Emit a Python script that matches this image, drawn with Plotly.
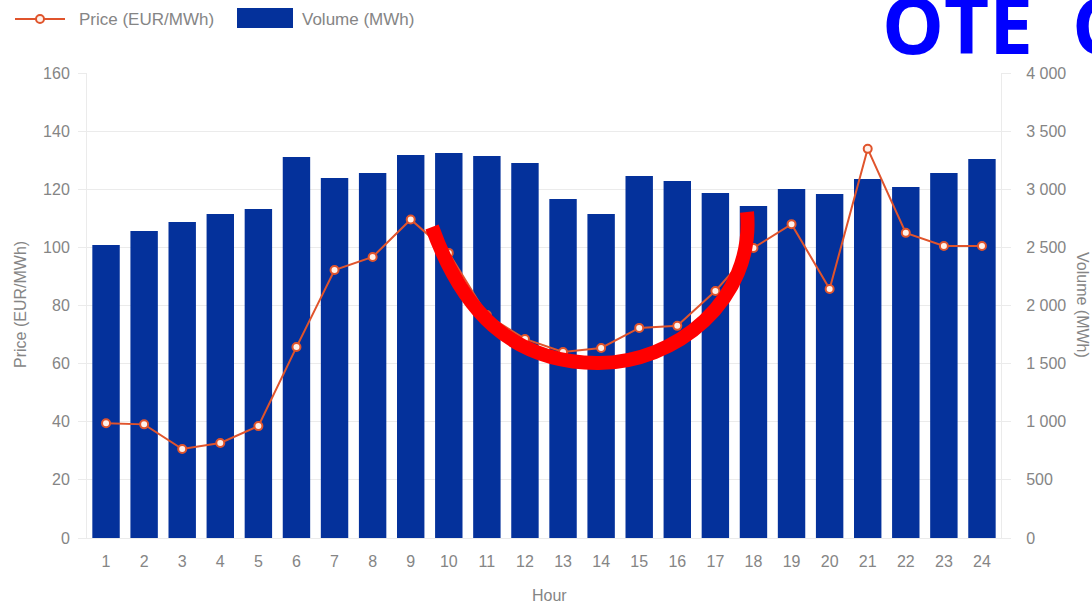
import plotly.graph_objects as go

# Hourly day-ahead results
hours = list(range(1, 25))
price_eur_mwh = [39.5, 39.1, 30.6, 32.7, 38.5, 65.7, 92.2, 96.7, 109.6, 98.1,
                 76.7, 68.5, 64.0, 65.4, 72.3, 73.0, 85.0, 99.8, 108.0, 85.7,
                 133.9, 105.0, 100.5, 100.5]
volume_mwh = [2520, 2641, 2718, 2787, 2830, 3277, 3097, 3140, 3295, 3312,
              3286, 3226, 2916, 2787, 3114, 3071, 2968, 2856, 3002, 2959,
              3088, 3019, 3140, 3260]

price_ticks = list(range(0, 161, 20))
volume_ticks = list(range(0, 4001, 500))

W, H = 1092, 604
L, R, T, B = 87, 91, 73, 66
PW, PH = W - L - R, H - T - B

BAR = "#04319b"
LINE = "#e0542c"
GRID = "#ebebeb"
TXT = "#858585"
FONT = "Liberation Sans, Arial, sans-serif"


def px(x):
    return (x - L) / PW


def py(y):
    return (H - B - y) / PH


fig = go.Figure()

fig.add_trace(go.Bar(
    x=hours, y=volume_mwh, name="Volume (MWh)",
    marker=dict(color=BAR, line=dict(width=0)),
    yaxis="y", showlegend=False,
))
fig.add_trace(go.Scatter(
    x=hours, y=price_eur_mwh, name="Price (EUR/MWh)",
    mode="lines+markers",
    line=dict(color=LINE, width=2),
    marker=dict(size=8, color="#fff1ea", line=dict(color=LINE, width=2)),
    yaxis="y2", showlegend=False,
))

axis_font = dict(family=FONT, size=16, color=TXT)

fig.update_layout(
    width=W, height=H,
    margin=dict(l=L, r=R, t=T, b=B),
    paper_bgcolor="white", plot_bgcolor="white",
    separators=". ",
    bargap=0.28,
    xaxis=dict(
        range=[0.5, 24.5], tickmode="array", tickvals=hours,
        ticktext=[str(h) for h in hours],
        showgrid=False, zeroline=False,
        showline=True, linecolor=GRID, linewidth=1,
        ticks="outside", ticklen=9, tickcolor="rgba(0,0,0,0)",
        tickfont=axis_font,
    ),
    yaxis=dict(
        side="right", range=[0, 4000], tickmode="array", tickvals=volume_ticks,
        tickformat=",d", showgrid=True, gridcolor=GRID, zeroline=False,
        showline=True, linecolor=GRID, linewidth=1,
        ticks="outside", ticklen=9, tickcolor=GRID,
        ticklabelstandoff=12,
        tickfont=axis_font,
    ),
    yaxis2=dict(
        side="left", overlaying="y", range=[0, 160], tickmode="array",
        tickvals=price_ticks, showgrid=False, zeroline=False,
        showline=True, linecolor=GRID, linewidth=1,
        ticks="outside", ticklen=8, tickcolor=GRID,
        ticklabelstandoff=5,
        tickfont=axis_font,
    ),
    showlegend=False,
)

# Axis titles
fig.add_annotation(text="Price (EUR/MWh)", xref="paper", yref="paper",
                   x=px(20), y=py(305), xanchor="center", yanchor="middle",
                   textangle=-90, showarrow=False,
                   font=dict(family=FONT, size=16, color=TXT))
fig.add_annotation(text="Volume (MWh)", xref="paper", yref="paper",
                   x=px(1083), y=py(305), xanchor="center", yanchor="middle",
                   textangle=90, showarrow=False,
                   font=dict(family=FONT, size=16, color=TXT))
fig.add_annotation(text="Hour", xref="paper", yref="paper",
                   x=px(549), y=py(595), xanchor="center", yanchor="middle",
                   showarrow=False,
                   font=dict(family=FONT, size=16, color=TXT))

# Legend
fig.add_shape(type="line", xref="paper", yref="paper",
              x0=px(15), x1=px(65), y0=py(19), y1=py(19),
              line=dict(color=LINE, width=2))
fig.add_shape(type="circle", xref="paper", yref="paper",
              x0=px(36), x1=px(44), y0=py(15), y1=py(23),
              fillcolor="#fff1ea", line=dict(color=LINE, width=2))
fig.add_annotation(text="Price (EUR/MWh)", xref="paper", yref="paper",
                   x=px(77), y=py(20), xanchor="left", yanchor="middle",
                   showarrow=False,
                   font=dict(family=FONT, size=17, color=TXT))
fig.add_shape(type="rect", xref="paper", yref="paper",
              x0=px(237), x1=px(293), y0=py(8), y1=py(28),
              fillcolor=BAR, line=dict(width=0))
fig.add_annotation(text="Volume (MWh)", xref="paper", yref="paper",
                   x=px(300), y=py(20), xanchor="left", yanchor="middle",
                   showarrow=False,
                   font=dict(family=FONT, size=17, color=TXT))

# Red highlight arc over the midday dip
pts = [(432, 227), (462, 310), (510, 362), (597, 363),
       (675, 364), (755, 300), (747, 212)]
p = [(px(a), py(b)) for a, b in pts]
path = (f"M {p[0][0]},{p[0][1]} C {p[1][0]},{p[1][1]} {p[2][0]},{p[2][1]} {p[3][0]},{p[3][1]} "
        f"C {p[4][0]},{p[4][1]} {p[5][0]},{p[5][1]} {p[6][0]},{p[6][1]}")
fig.add_shape(type="path", xref="paper", yref="paper", path=path,
              line=dict(color="#ff0000", width=14), layer="above")

# Heading text
fig.add_annotation(text="<b>OTE\u2002C</b>", xref="paper", yref="paper",
                   x=px(880), y=py(24), xanchor="left", yanchor="middle",
                   showarrow=False,
                   font=dict(family="Open Sans, sans-serif", size=78, color="#0000ff"))

fig.write_html("out.html")
